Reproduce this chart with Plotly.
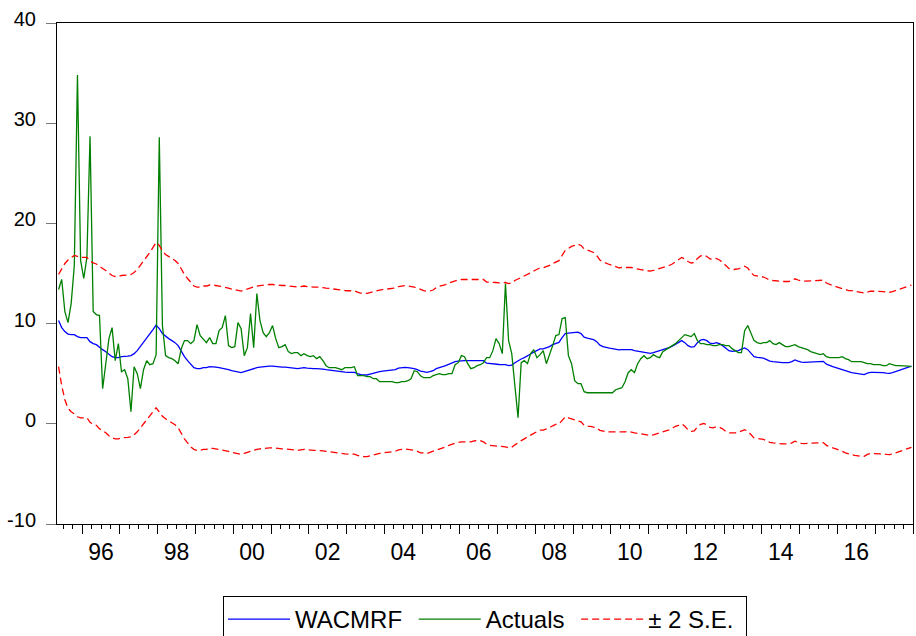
import pandas as pd
import plotly.graph_objects as go

# Monthly sample 1995M05 - 2017M12
months = pd.period_range("1995-05", "2017-12", freq="M")

wacmrf = [
    10.3, 9.6, 9.2, 8.95, 8.9, 8.9, 8.7, 8.6,                                   # 1995 M5-M12
    8.6, 8.6, 8.2, 8.0, 7.9, 7.6, 7.4, 7.2, 6.9, 6.7, 6.6, 6.6,                 # 1996
    6.7, 6.7, 6.75, 6.8, 7.0, 7.3, 7.7, 8.1, 8.5, 9.0, 9.4, 9.85,               # 1997
    9.5, 9.0, 8.7, 8.5, 8.3, 8.1, 7.8, 7.2, 6.7, 6.3, 5.9, 5.6,                 # 1998
    5.5, 5.5, 5.6, 5.6, 5.7, 5.7, 5.65, 5.6, 5.55, 5.5, 5.4, 5.3,               # 1999
    5.25, 5.15, 5.1, 5.2, 5.3, 5.45, 5.55, 5.6, 5.65, 5.7, 5.7, 5.75,           # 2000
    5.75, 5.7, 5.7, 5.65, 5.65, 5.6, 5.6, 5.55, 5.5, 5.55, 5.6, 5.55,           # 2001
    5.5, 5.5, 5.5, 5.5, 5.45, 5.4, 5.35, 5.3, 5.25, 5.2, 5.2, 5.15,             # 2002
    5.13, 5.13, 5.13, 5.0, 4.9, 4.88, 4.87, 4.95, 5.05, 5.12, 5.2, 5.25,        # 2003
    5.3, 5.33, 5.36, 5.4, 5.55, 5.6, 5.63, 5.6, 5.57, 5.5, 5.4, 5.25,           # 2004
    5.2, 5.13, 5.2, 5.3, 5.5, 5.63, 5.7, 5.8, 5.95, 6.05, 6.2, 6.25,            # 2005
    6.3, 6.3, 6.3, 6.3, 6.35, 6.37, 6.37, 6.3, 6.05, 6.0, 5.97, 5.95,           # 2006
    5.92, 5.9, 5.9, 5.8, 5.85, 6.1, 6.3, 6.47, 6.6, 6.75, 6.97, 7.15,           # 2007
    7.3, 7.47, 7.47, 7.55, 7.7, 7.9, 8.05, 8.13, 8.6, 9.0, 9.05, 9.1,           # 2008
    9.1, 9.15, 9.0, 8.65, 8.55, 8.5, 8.4, 8.2, 7.85, 7.7, 7.6, 7.55,            # 2009
    7.5, 7.4, 7.37, 7.4, 7.4, 7.43, 7.4, 7.3, 7.25, 7.2, 7.1, 7.05,             # 2010
    7.03, 7.1, 7.2, 7.25, 7.35, 7.45, 7.6, 7.75, 7.95, 8.1, 8.3, 8.1,           # 2011
    7.8, 7.65, 7.7, 8.1, 8.35, 8.43, 8.3, 8.05, 8.0, 8.1, 8.0, 7.8,             # 2012
    7.5, 7.3, 7.23, 7.25, 7.3, 7.45, 7.57, 7.4, 7.0, 6.7, 6.63, 6.6,            # 2013
    6.55, 6.4, 6.25, 6.2, 6.15, 6.13, 6.1, 6.1, 6.1, 6.2, 6.37, 6.25,           # 2014
    6.15, 6.13, 6.15, 6.2, 6.2, 6.2, 6.23, 6.23, 5.95, 5.8, 5.7, 5.6,           # 2015
    5.5, 5.35, 5.25, 5.15, 5.1, 5.05, 5.0, 4.95, 4.9, 5.05, 5.13, 5.13,         # 2016
    5.13, 5.13, 5.1, 5.05, 5.03, 5.1, 5.2, 5.3, 5.4, 5.5, 5.6, 5.75,            # 2017
]

actuals = [
    13.4, 14.4, 11.2, 10.1, 12.0, 15.8, 34.8, 16.3,                             # 1995 M5-M12
    14.5, 16.6, 28.7, 11.2, 10.9, 10.8, 3.5, 6.2, 8.5, 9.6, 6.3, 8.0,           # 1996
    5.2, 5.4, 4.5, 1.2, 5.7, 5.0, 3.5, 5.4, 6.3, 5.9, 6.0, 6.9,                 # 1997
    28.6, 9.8, 6.8, 6.6, 6.5, 6.3, 6.0, 7.5, 8.3, 8.3, 8.0, 8.3,                # 1998
    9.9, 8.8, 8.5, 8.1, 8.6, 8.0, 8.0, 9.3, 9.6, 10.8, 7.8, 7.6,                # 1999
    7.7, 10.1, 9.5, 6.8, 7.6, 11.0, 7.6, 13.0, 10.3, 9.1, 8.7, 9.1,             # 2000
    9.8, 8.5, 7.6, 7.7, 7.9, 7.2, 7.0, 7.1, 7.1, 6.8, 7.0, 6.8,                 # 2001
    6.7, 6.8, 6.5, 6.7, 6.3, 5.8, 5.6, 5.6, 5.6, 5.5, 5.4, 5.6,                 # 2002
    5.6, 5.6, 5.7, 4.8, 4.8, 4.8, 4.7, 4.7, 4.5, 4.5, 4.2, 4.2,                 # 2003
    4.2, 4.2, 4.2, 4.1, 4.1, 4.2, 4.2, 4.3, 4.5, 5.3, 5.2, 4.8,                 # 2004
    4.6, 4.6, 4.6, 4.8, 4.9, 5.0, 4.9, 4.9, 5.0, 5.0, 5.9, 6.1,                 # 2005
    6.8, 6.7, 6.0, 5.5, 5.6, 5.8, 5.9, 6.1, 6.6, 6.6, 7.3, 8.5,                 # 2006
    8.0, 7.0, 14.0, 8.3, 7.0, 4.0, 0.6, 6.1, 6.3, 6.0, 7.0, 7.4,                # 2007
    6.6, 6.9, 7.3, 6.0, 6.8, 7.8, 8.8, 8.9, 10.5, 10.6, 6.8, 6.0,               # 2008
    4.3, 4.0, 4.0, 3.2, 3.1, 3.1, 3.1, 3.1, 3.1, 3.1, 3.1, 3.1,                 # 2009
    3.1, 3.4, 3.5, 3.6, 4.2, 5.1, 5.4, 5.1, 6.0, 6.5, 6.8, 6.5,                 # 2010
    6.6, 6.9, 6.7, 6.6, 7.2, 7.4, 7.6, 7.8, 8.0, 8.3, 8.6, 8.9,                 # 2011
    8.8, 8.7, 9.0, 8.3, 8.0, 8.0, 7.9, 7.9, 7.8, 7.8, 7.9, 7.9,                 # 2012
    7.8, 7.8, 7.5, 7.3, 7.1, 7.1, 9.3, 9.8, 9.0, 8.3, 8.1, 8.0,                 # 2013
    8.1, 8.1, 8.3, 8.0, 7.9, 8.1, 7.9, 7.7, 7.7, 7.8, 7.9, 7.7,                 # 2014
    7.6, 7.5, 7.4, 7.2, 7.1, 7.0, 6.9, 7.0, 6.7, 6.6, 6.6, 6.6,                 # 2015
    6.6, 6.7, 6.5, 6.4, 6.2, 6.2, 6.2, 6.2, 6.1, 6.0, 6.0, 5.9,                 # 2016
    5.9, 5.9, 5.8, 5.8, 6.0, 5.9, 5.8, 5.8, 5.8, 5.75, 5.75, 5.7,               # 2017
]

# two standard errors of the forecast
se2 = [
    4.6, 5.8, 6.8, 7.4, 7.7, 7.9, 8.0, 8.0,                                     # 1995 M5-M12
    8.0, 8.0, 8.05, 8.05, 8.05, 8.1, 8.1, 8.1, 8.1, 8.1, 8.1, 8.1,              # 1996
    8.1, 8.1, 8.1, 8.1, 8.1, 8.1, 8.1, 8.1, 8.1, 8.1, 8.2, 8.25,                # 1997
    8.3, 8.25, 8.2, 8.2, 8.2, 8.2, 8.2, 8.2, 8.2, 8.2, 8.2, 8.15,               # 1998
    8.15, 8.15, 8.15, 8.15, 8.15, 8.15, 8.15, 8.15, 8.15, 8.15, 8.15, 8.15,     # 1999
    8.15, 8.15, 8.15, 8.15, 8.15, 8.15, 8.15, 8.15, 8.15, 8.15, 8.15, 8.15,     # 2000
    8.15, 8.15, 8.15, 8.15, 8.15, 8.15, 8.15, 8.15, 8.15, 8.15, 8.15, 8.15,     # 2001
    8.15, 8.15, 8.15, 8.15, 8.15, 8.15, 8.15, 8.15, 8.15, 8.15, 8.15, 8.15,     # 2002
    8.15, 8.15, 8.15, 8.15, 8.15, 8.15, 8.15, 8.15, 8.15, 8.15, 8.15, 8.15,     # 2003
    8.15, 8.15, 8.15, 8.15, 8.15, 8.15, 8.15, 8.15, 8.15, 8.15, 8.15, 8.15,     # 2004
    8.1, 8.1, 8.05, 8.05, 8.1, 8.1, 8.1, 8.1, 8.1, 8.1, 8.1, 8.1,               # 2005
    8.1, 8.1, 8.1, 8.1, 8.05, 8.05, 8.05, 8.1, 8.1, 8.15, 8.15, 8.15,           # 2006
    8.15, 8.15, 8.2, 8.2, 8.2, 8.2, 8.15, 8.15, 8.1, 8.1, 8.1, 8.1,             # 2007
    8.1, 8.1, 8.1, 8.1, 8.1, 8.1, 8.1, 8.15, 8.2, 8.3, 8.45, 8.6,               # 2008
    8.7, 8.8, 8.8, 8.8, 8.8, 8.75, 8.7, 8.6, 8.5, 8.45, 8.4, 8.35,              # 2009
    8.3, 8.25, 8.2, 8.2, 8.2, 8.2, 8.2, 8.2, 8.2, 8.2, 8.2, 8.2,                # 2010
    8.2, 8.2, 8.2, 8.2, 8.2, 8.2, 8.2, 8.2, 8.2, 8.25, 8.3, 8.35,               # 2011
    8.4, 8.4, 8.4, 8.4, 8.4, 8.4, 8.4, 8.4, 8.4, 8.4, 8.35, 8.3,                # 2012
    8.25, 8.2, 8.15, 8.15, 8.15, 8.15, 8.15, 8.15, 8.1, 8.1, 8.1, 8.1,          # 2013
    8.1, 8.1, 8.1, 8.1, 8.1, 8.1, 8.1, 8.1, 8.1, 8.1, 8.1, 8.1,                 # 2014
    8.1, 8.1, 8.1, 8.1, 8.1, 8.1, 8.1, 8.1, 8.1, 8.1, 8.1, 8.1,                 # 2015
    8.1, 8.1, 8.15, 8.15, 8.2, 8.2, 8.2, 8.2, 8.15, 8.1, 8.1, 8.1,              # 2016
    8.1, 8.1, 8.1, 8.1, 8.1, 8.1, 8.1, 8.1, 8.1, 8.1, 8.1, 8.1,                 # 2017
]

year_ticks = list(range(1996, 2019))
label_years = list(range(1996, 2017, 2))
label_text = ["96", "98", "00", "02", "04", "06", "08", "10", "12", "14", "16"]
y_ticks = [-10, 0, 10, 20, 30, 40]
y_tick_text = ["-10", "0", "10", "20", "30", "40"]
series_names = ["WACMRF", "Actuals", "± 2 S.E."]

# observation positions: middle of each month, in fractional years
t = [p.year + (p.month - 0.5) / 12 for p in months]
upper = [w + s for w, s in zip(wacmrf, se2)]
lower = [w - s for w, s in zip(wacmrf, se2)]
label_pos = [y + 0.5 for y in label_years]

FONT = "Liberation Sans, Arial, Helvetica, sans-serif"
NB = "\u00a0"
LW = 1.3

fig = go.Figure()
fig.add_trace(go.Scatter(x=t, y=wacmrf, name=series_names[0] + NB, mode="lines",
                         line=dict(color="#0000FF", width=LW)))
fig.add_trace(go.Scatter(x=t, y=actuals, name=series_names[1] + NB, mode="lines",
                         line=dict(color="#008000", width=LW)))
fig.add_trace(go.Scatter(x=t, y=upper, name=series_names[2] + NB, legendgroup="se", mode="lines",
                         line=dict(color="#FF0000", width=LW, dash="7px,4px")))
fig.add_trace(go.Scatter(x=t, y=lower, name=series_names[2], legendgroup="se", mode="lines",
                         showlegend=False, line=dict(color="#FF0000", width=LW, dash="7px,4px")))
# empty trace carrying the label axis
fig.add_trace(go.Scatter(x=[], y=[], xaxis="x2", showlegend=False, hoverinfo="skip"))

xrange = [1995 + 4 / 12, 2018.0]

fig.update_layout(
    width=916, height=636,
    margin=dict(l=57, r=3, t=23, b=112, autoexpand=False),
    paper_bgcolor="white", plot_bgcolor="white",
    font=dict(family=FONT, color="black"),
    showlegend=True,
    legend=dict(orientation="h", x=0.5, xanchor="center", y=-0.1437, yanchor="top",
                bordercolor="black", borderwidth=1, bgcolor="white",
                font=dict(size=24, family=FONT, color="black"), itemwidth=62),
    xaxis=dict(range=xrange, tickmode="array", tickvals=year_ticks, showticklabels=False,
               ticks="outside", ticklen=9, tickcolor="black", tickwidth=1,
               minor=dict(tickmode="linear", tick0=1996, dtick=0.25, ticks="outside",
                          ticklen=4, tickcolor="black", tickwidth=1),
               showline=True, linecolor="black", linewidth=1, mirror=True,
               showgrid=False, zeroline=False, automargin=False),
    xaxis2=dict(overlaying="x", matches="x", anchor="y", side="bottom",
                tickmode="array", tickvals=label_pos, ticktext=label_text,
                ticks="outside", ticklen=7, tickcolor="rgba(0,0,0,0)",
                tickfont=dict(size=23, family=FONT, color="black"),
                showline=False, showgrid=False, zeroline=False, automargin=False),
    yaxis=dict(range=[-10, 40], tickmode="array", tickvals=y_ticks, ticktext=y_tick_text,
               ticks="outside", ticklen=10, tickcolor="#777777", tickwidth=1,
               tickfont=dict(size=20, family=FONT, color="black"),
               ticklabelstandoff=6, ticklabelshift=-4,
               showline=True, linecolor="black", linewidth=1, mirror=True,
               showgrid=False, zeroline=False, automargin=False),
)

fig.write_html("out.html", config={"displayModeBar": False},
               post_script="document.body.style.margin='0px';")
